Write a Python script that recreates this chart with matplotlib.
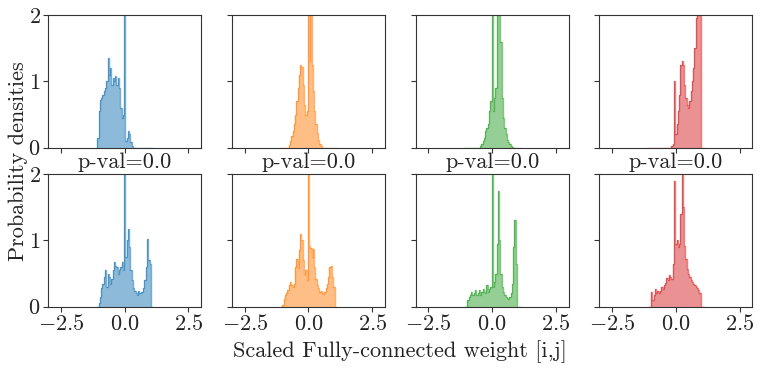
import numpy as np
import matplotlib
matplotlib.use("Agg")
import matplotlib.pyplot as plt

plt.rcParams["font.family"] = "cmr10"
plt.rcParams["mathtext.fontset"] = "cm"
plt.rcParams["axes.formatter.use_mathtext"] = True
plt.rcParams["font.size"] = 16

# histogram bins: width 0.05, centred on -1.1 ... 1.1
edges = np.linspace(-1.125, 1.125, 46)

colors = ["#1f77b4", "#ff7f0e", "#2ca02c", "#d62728"]

top_blue = [0, 0.15, 0.55, 0.72, 0.75, 0.8, 0.85, 0.9, 1.0, 1.35, 1.1, 1.2, 0.95,
            1.05, 1.0, 1.08, 0.95, 1.05, 0.9, 0.6, 0.45, 0.5, 2.5, 0.1, 0.15, 0.25,
            0.2, 0.08, 0.02] + [0] * 16
top_orange = [0] * 7 + [0.04, 0.1, 0.17, 0.25, 0.35, 0.5, 0.7, 0.9, 1.1, 1.25, 1.22,
                        0.95, 0.65, 0.5, 0.55, 2.5, 1.3, 2.5, 1.25, 0.85, 0.55, 0.35,
                        0.22, 0.12, 0.05, 0.02] + [0] * 12
top_green = [0] * 13 + [0.02, 0.05, 0.1, 0.15, 0.25, 0.3, 0.35, 0.55, 0.7, 2.5, 0.55,
                        0.75, 0.9, 2.5, 2.5, 2.2, 1.6, 0.75, 0.45, 0.3, 0.2, 0.12,
                        0.08, 0.05, 0.03, 0.01] + [0] * 6
top_red = [0] * 19 + [0.02, 0.05, 1.0, 0.2, 0.35, 0.55, 0.8, 1.25, 1.3, 1.25, 0.95,
                      0.75, 0.65, 0.6, 0.7, 0.85, 1.0, 1.2, 1.5, 1.95, 2.5, 2.5,
                      2.0] + [0] * 3

bot_blue = [0, 0, 0.05, 0.15, 0.28, 0.35, 0.45, 0.55, 0.3, 0.5, 0.45, 0.35, 0.42,
            0.55, 0.68, 0.62, 0.6, 0.5, 0.55, 0.6, 0.68, 0.55, 2.5, 0.75, 1.0, 1.17,
            0.9, 0.55, 0.4, 0.28, 0.24, 0.2, 0.18, 0.24, 0.2, 0.22, 0.22, 0.28, 0.4,
            0.6, 1.02, 0.7, 0.65, 0, 0]
bot_orange = [0, 0, 0.03, 0.12, 0.17, 0.2, 0.25, 0.32, 0.37, 0.33, 0.3, 0.35, 0.6,
              0.72, 0.58, 0.85, 1.1, 1.0, 0.7, 0.5, 0.55, 0.4, 2.5, 0.92, 0.88, 0.75,
              0.87, 0.6, 0.42, 0.32, 0.28, 0.22, 0.24, 0.2, 0.19, 0.22, 0.28, 0.35,
              0.45, 0.6, 0.62, 0.45, 0.3, 0, 0]
bot_green = [0, 0, 0, 0.1, 0.15, 0.17, 0.22, 0.18, 0.2, 0.25, 0.17, 0.2, 0.25, 0.18,
             0.22, 0.27, 0.22, 0.2, 0.32, 0.22, 0.27, 0.3, 2.5, 0.3, 0.38, 0.5, 0.95,
             1.75, 1.0, 0.5, 0.3, 0.22, 0.18, 0.15, 0.13, 0.12, 0.14, 0.2, 0.35, 0.9,
             1.3, 0.65, 0, 0, 0]
bot_red = [0, 0, 0, 0.22, 0.1, 0.18, 0.27, 0.2, 0.24, 0.2, 0.24, 0.3, 0.27, 0.32,
           0.36, 0.44, 0.4, 0.48, 0.45, 0.42, 0.65, 1.9, 0.95, 1.0, 0.9, 0.95, 1.4,
           2.5, 1.5, 0.92, 0.72, 0.57, 0.5, 0.45, 0.4, 0.37, 0.35, 0.33, 0.3, 0.28,
           0.25, 0.2, 0, 0, 0]

rows = [[top_blue, top_orange, top_green, top_red],
        [bot_blue, bot_orange, bot_green, bot_red]]
pval_labels = ["p-val=0.0"] * 4

fig, axes = plt.subplots(2, 4, figsize=(7.61, 3.70), dpi=100, sharex=True, sharey=True)
fig.subplots_adjust(left=0.0635, right=0.9886, top=0.9595, bottom=0.171,
                    wspace=0.202, hspace=0.198)

for r, row in enumerate(rows):
    for c, heights in enumerate(row):
        ax = axes[r, c]
        ax.stairs(heights, edges, fill=True, color=colors[c], alpha=0.5, lw=0)
        ax.stairs(heights, edges, color=colors[c], lw=1.0, alpha=0.6)
        ax.set_xlim(-3, 3)
        ax.set_ylim(0, 2)
        ax.set_xticks([-2.5, 0, 2.5])
        ax.set_yticks([0, 1, 2])
        for sp in ax.spines.values():
            sp.set_color("#333333")
        ax.tick_params(colors="#333333", labelcolor="#222222", length=3.5, pad=2)
        if r == 0:
            ax.set_xlabel(pval_labels[c], labelpad=0, color="#222222")

fig.text(0.024, (0.9595 + 0.171) / 2, "Probability densities", rotation=90,
         ha="center", va="center", color="#222222")
fig.text((0.0635 + 0.9886) / 2, 0.05, "Scaled Fully-connected weight [i,j]",
         ha="center", va="center", color="#222222")

fig.savefig("out.png", dpi=100)
